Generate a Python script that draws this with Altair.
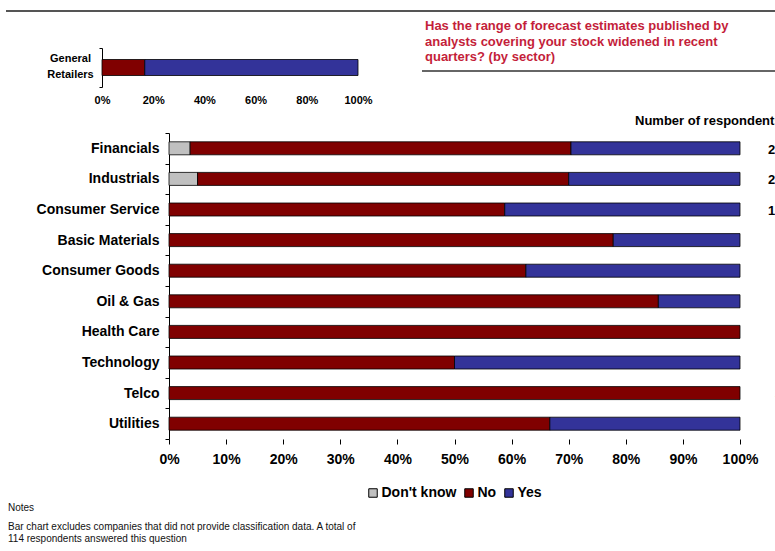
import altair as alt
import pandas as pd

# ---------------- data ----------------
sectors = ["Financials", "Industrials", "Consumer Service", "Basic Materials",
           "Consumer Goods", "Oil & Gas", "Health Care", "Technology", "Telco", "Utilities"]
dont_know = [3.7, 5.0, 0, 0, 0, 0, 0, 0, 0, 0]
no = [66.7, 65.0, 58.8, 77.8, 62.5, 85.7, 100.0, 50.0, 100.0, 66.7]
yes = [29.6, 30.0, 41.2, 22.2, 37.5, 14.3, 0, 50.0, 0, 33.3]
respondents = [27, 20, 17, 9, 8, 7, 5, 8, 4, 3]

small_sector = ["General Retailers"]
small_dont_know = [0]
small_no = [16.7]
small_yes = [83.3]

responses = ["Don't know", "No", "Yes"]
colors = ["#C0C0C0", "#800000", "#333399"]

x_ticks_main = [0, 0.1, 0.2, 0.3, 0.4, 0.5, 0.6, 0.7, 0.8, 0.9, 1.0]
x_ticks_small = [0, 0.2, 0.4, 0.6, 0.8, 1.0]

question_lines = ["Has the range of forecast estimates published by",
                  "analysts covering your stock widened in recent",
                  "quarters? (by sector)"]
respondents_title = "Number of respondents"
notes_title = "Notes"
notes_lines = ["Bar chart excludes companies that did not provide classification data. A total of",
               "114 respondents answered this question"]

FONT = "Liberation Sans"


def segments(cats, series):
    rows = []
    for i, c in enumerate(cats):
        start = 0.0
        for resp, vals in zip(responses, series):
            v = vals[i]
            if v > 0:
                rows.append({"sector": c, "response": resp,
                             "start": start / 100, "end": (start + v) / 100, "pct": v})
            start += v
    return pd.DataFrame(rows)


main_df = segments(sectors, [dont_know, no, yes])
small_df = segments(small_sector, [small_dont_know, small_no, small_yes])
counts_df = pd.DataFrame({"sector": sectors, "n": respondents})
one = pd.DataFrame({"k": [0]})

color = alt.Color(
    "response:N",
    scale=alt.Scale(domain=responses, range=colors),
    legend=alt.Legend(
        title=None, orient="none", direction="horizontal", legendX=197, legendY=353,
        symbolType="square", symbolSize=72, symbolStrokeColor="#000", symbolStrokeWidth=1,
        symbolOpacity=1, labelFont=FONT, labelFontSize=14, labelFontWeight="bold",
        labelColor="#000", labelOffset=1.5, columnPadding=5, padding=0),
)

main = alt.Chart(main_df).mark_bar(size=13, stroke="#000", strokeWidth=0.8).encode(
    x=alt.X("start:Q", scale=alt.Scale(domain=[0, 1], nice=False),
            axis=alt.Axis(values=x_ticks_main, format=".0%", orient="bottom", domain=False,
                          ticks=True, tickSize=5, tickColor="#000", tickWidth=1,
                          labelFont=FONT, labelFontSize=14, labelFontWeight="bold",
                          labelColor="#000", labelPadding=8, labelFlush=False,
                          labelOverlap=False, grid=False, title=None)),
    x2="end:Q",
    y=alt.Y("sector:N", scale=alt.Scale(domain=sectors, paddingInner=0, paddingOuter=0),
            axis=alt.Axis(orient="left", title=None, domain=True, domainColor="#000",
                          domainWidth=1, ticks=True, tickBand="extent", tickExtra=True,
                          tickSize=4, tickColor="#000", labelFont=FONT, labelFontSize=14,
                          labelFontWeight="bold", labelColor="#000", labelPadding=6,
                          labelLimit=300, grid=False)),
    color=color,
)

small = alt.Chart(small_df).mark_bar(size=16, stroke="#000", strokeWidth=0.8).encode(
    x=alt.X("start:Q", scale=alt.Scale(domain=[0, 1], range=[-67, 189], nice=False),
            axis=alt.Axis(values=x_ticks_small, format=".0%", orient="bottom", offset=-352,
                          domain=False, ticks=False, tickSize=0, labelFont=FONT,
                          labelFontSize=11, labelFontWeight="bold", labelColor="#000",
                          labelPadding=7, labelFlush=False, labelOverlap=False,
                          grid=False, title=None)),
    x2="end:Q",
    y=alt.Y("sector:N", scale=alt.Scale(domain=small_sector, range=[-85, -46],
                                        paddingInner=0, paddingOuter=0),
            axis=alt.Axis(orient="left", offset=67, title=None, domain=True,
                          domainColor="#000", tickBand="extent", tickExtra=True, tickSize=3,
                          tickColor="#000", labelExpr="split(datum.label, ' ')",
                          labelLineHeight=16, labelAlign="center", labelBaseline="middle",
                          labelOffset=-9, labelPadding=29, labelFont=FONT, labelFontSize=11,
                          labelFontWeight="bold", labelColor="#000", grid=False)),
    color=color,
)

counts = alt.Chart(counts_df).mark_text(
    align="right", baseline="middle", font=FONT, fontSize=13, fontWeight="bold",
    color="#000", dy=1.5).encode(
    y=alt.Y("sector:N", scale=alt.Scale(domain=sectors, paddingInner=0, paddingOuter=0),
            axis=None),
    x=alt.value(613.5),
    text="n:Q",
)

question = alt.Chart(one).mark_text(
    align="left", baseline="alphabetic", lineBreak="\n", lineHeight=15.5, font=FONT,
    fontSize=13, fontWeight="bold", color="#C41E3A").encode(
    x=alt.value(256), y=alt.value(-103), text=alt.value("\n".join(question_lines)))

header = alt.Chart(one).mark_text(
    align="left", baseline="alphabetic", font=FONT, fontSize=13, fontWeight="bold",
    color="#000").encode(x=alt.value(466), y=alt.value(-8.5), text=alt.value(respondents_title))

notes_t = alt.Chart(one).mark_text(
    align="left", baseline="alphabetic", font=FONT, fontSize=10, color="#111").encode(
    x=alt.value(-161), y=alt.value(377.5), text=alt.value(notes_title))

notes_b = alt.Chart(one).mark_text(
    align="left", baseline="alphabetic", lineBreak="\n", lineHeight=12, font=FONT,
    fontSize=10, color="#111").encode(
    x=alt.value(-161), y=alt.value(396.5), text=alt.value("\n".join(notes_lines)))

top_rule = alt.Chart(one).mark_rule(color="#555", strokeWidth=2).encode(
    x=alt.value(-163), x2=alt.value(606), y=alt.value(-122))
q_rule = alt.Chart(one).mark_rule(color="#666", strokeWidth=2).encode(
    x=alt.value(253), x2=alt.value(606), y=alt.value(-62))

chart = alt.layer(main, small, counts, question, header, notes_t, notes_b, top_rule, q_rule
                  ).resolve_scale(x="independent", y="independent").properties(
    width=571, height=306,
    autosize=alt.AutoSizeParams(type="none"),
    padding={"left": 169, "top": 133, "right": 35, "bottom": 112},
).configure_view(stroke=None)

chart.save("out.html", embed_options={"renderer": "svg", "actions": False})
